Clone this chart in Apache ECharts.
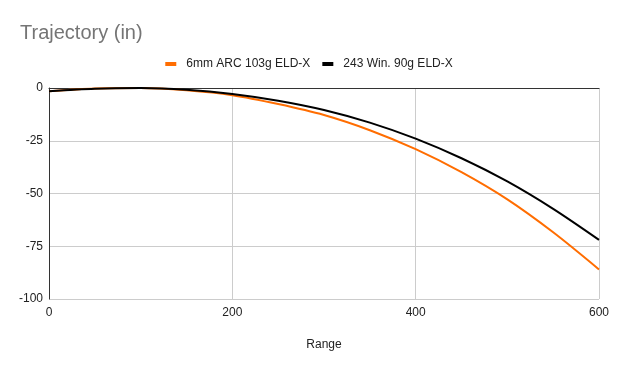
<!DOCTYPE html>
<html>
<head>
<meta charset="utf-8">
<script src="https://cdn.jsdelivr.net/npm/echarts@6/dist/echarts.min.js"></script>
<style>html,body{margin:0;padding:0;background:#fff}#c{width:618px;height:371px}</style>
</head>
<body>
<div id="c"></div>
<script>
var ranges = [0, 50, 100, 150, 200, 250, 300, 350, 400, 450, 500, 550, 600];
var arc103 = [-1.5, -0.2, 0, -1.1, -3.4, -7.6, -12.8, -20.0, -29.0, -39.9, -52.8, -68.4, -86.0];
var win243 = [-1.5, -0.3, 0, -0.8, -2.8, -6.0, -10.4, -16.4, -24.0, -33.3, -44.3, -57.3, -72.0];
var seriesNames = ['6mm ARC 103g ELD-X', '243 Win. 90g ELD-X'];
var xTicks = [0, 200, 400, 600];
var yTicks = [0, -25, -50, -75, -100];

function pairs(xs, ys) { return xs.map(function (x, i) { return [x, ys[i]]; }); }

var chart = echarts.init(document.getElementById('c'));
var font = 'Liberation Sans, Arial, sans-serif';
chart.setOption({
  animation: false,
  title: { text: 'Trajectory (in)', left: 15, top: 18,
    textStyle: { fontFamily: font, fontSize: 20, fontWeight: 'normal', color: '#757575' } },
  legend: { top: 53, left: 'center', itemWidth: 11, itemHeight: 4, itemGap: 12, icon: 'rect',
    textStyle: { fontFamily: font, fontSize: 12, color: '#222', padding: [0, 0, 0, 5] },
    data: seriesNames },
  grid: { left: 49, right: 19, top: 88, bottom: 72, containLabel: false },
  xAxis: [{
    type: 'value', min: xTicks[0], max: xTicks[xTicks.length - 1], interval: 200,
    name: 'Range', nameLocation: 'middle', nameGap: 40,
    nameTextStyle: { fontFamily: font, fontSize: 12, color: '#222' },
    axisLine: { show: false }, axisTick: { show: false },
    axisLabel: { fontFamily: font, fontSize: 12, color: '#222', margin: 8 },
    splitLine: { show: true, lineStyle: { color: '#cccccc', width: 1 } }
  }, {
    type: 'value', position: 'top', min: 0, max: 600, interval: 200,
    axisLine: { show: true, onZero: false, lineStyle: { color: '#333', width: 1 } },
    axisTick: { show: false }, axisLabel: { show: false }, splitLine: { show: false }
  }],
  yAxis: {
    type: 'value', min: -100, max: 0, interval: 25,
    axisLine: { show: true, onZero: false, lineStyle: { color: '#333', width: 1 } },
    axisTick: { show: false },
    axisLabel: { fontFamily: font, fontSize: 12, color: '#222', margin: 6 },
    splitLine: { show: true, lineStyle: { color: '#cccccc', width: 1 } }
  },
  series: [
    { name: seriesNames[0], type: 'line', data: pairs(ranges, arc103), smooth: 0.3, showSymbol: false,
      lineStyle: { color: '#ff6d01', width: 2 }, itemStyle: { color: '#ff6d01' }, z: 3 },
    { name: seriesNames[1], type: 'line', data: pairs(ranges, win243), smooth: 0.3, showSymbol: false,
      lineStyle: { color: '#000000', width: 2 }, itemStyle: { color: '#000000' }, z: 4 }
  ]
});
</script>
</body>
</html>
